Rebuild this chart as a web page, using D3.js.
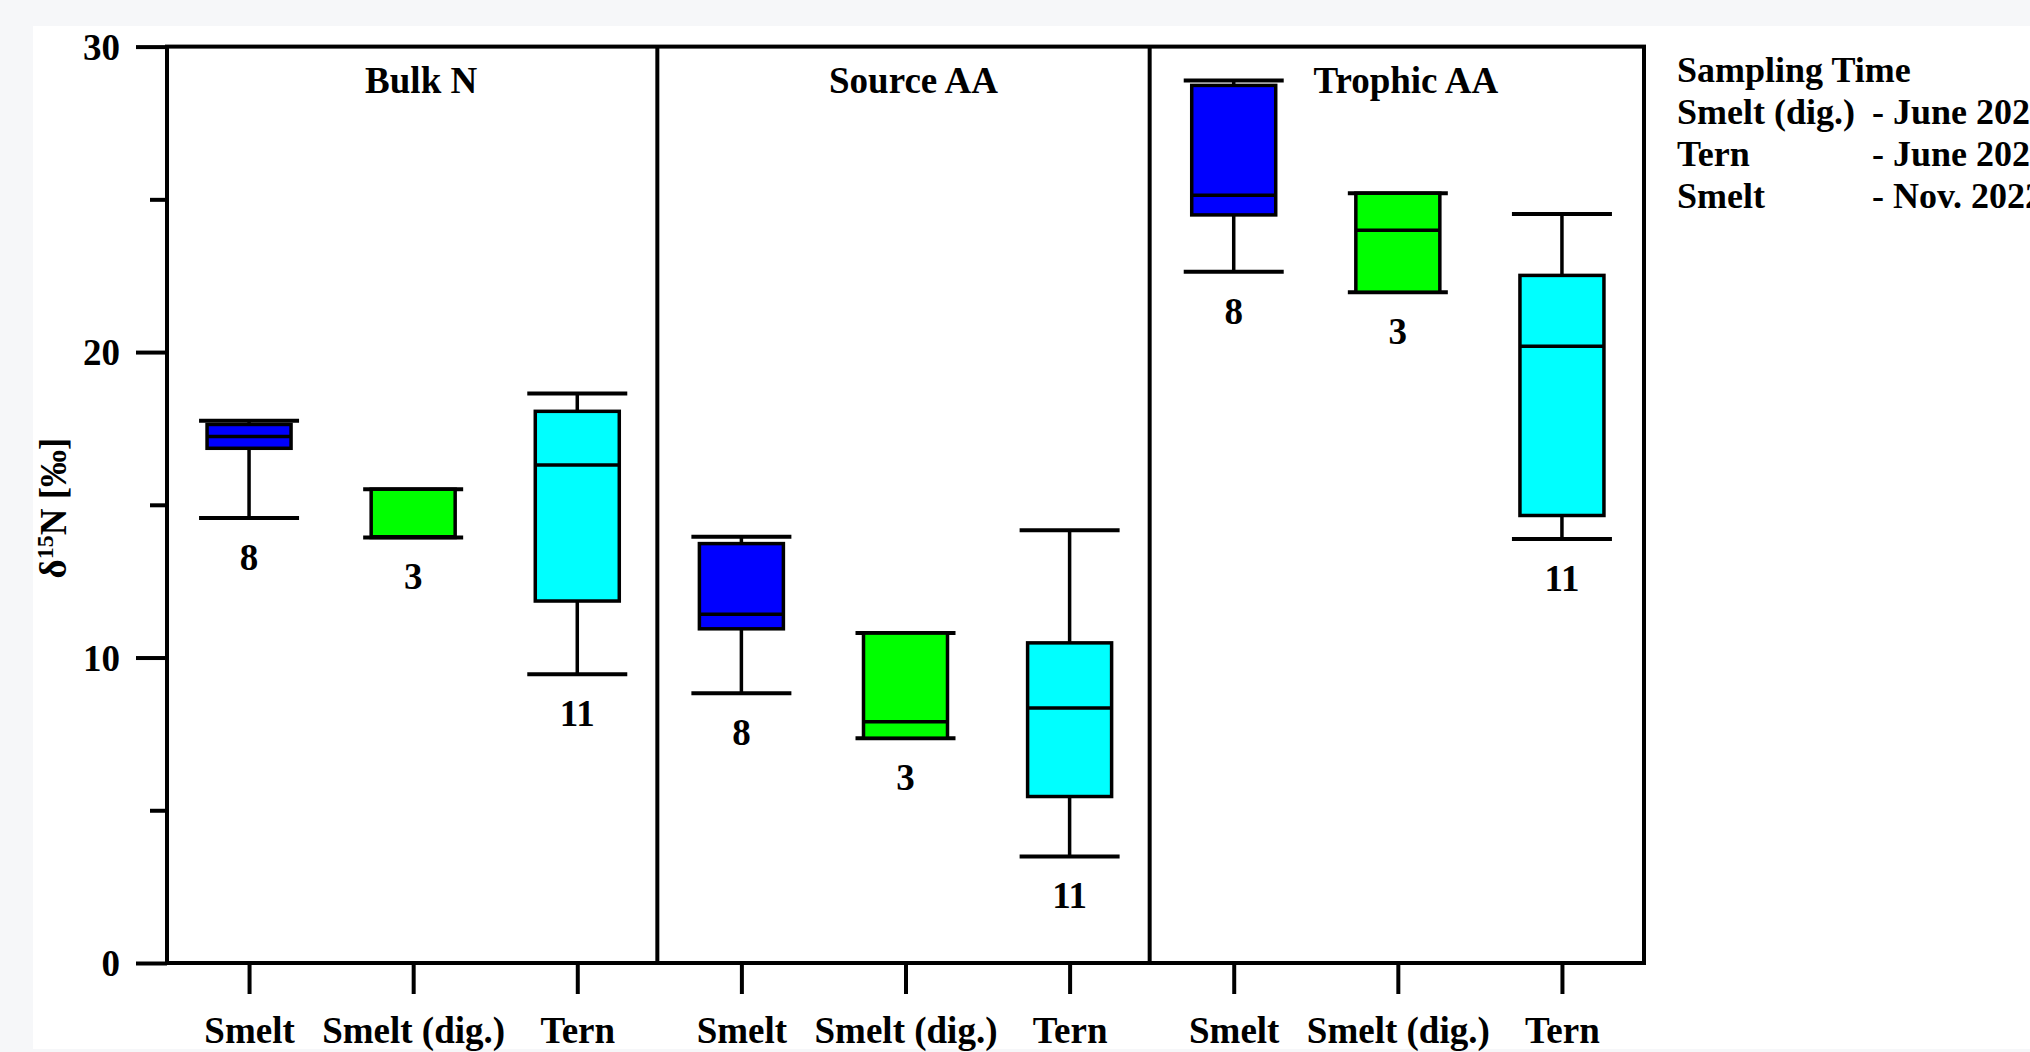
<!DOCTYPE html>
<html lang="en">
<head>
  <meta charset="utf-8">
  <title>d15N box plots</title>
  <script src="https://d3js.org/d3.v7.min.js"></script>
  <style>
    body { margin: 0; background: #f6f7f9; }
    svg text { font-family: "Liberation Serif", "Times New Roman", serif; font-weight: bold; fill: #000; }
  </style>
</head>
<body>
<div id="chart"></div>
<script>
// panels and groups
var panels = ["Bulk N", "Source AA", "Trophic AA"];
var groups = ["Smelt", "Smelt (dig.)", "Tern"];
var counts = [8, 3, 11];
var colors = ["#0000ff", "#00ff00", "#00ffff"];

// [whisker low, q1, median, q3, whisker high] per group
var bulkN = [
  [14.57, 16.85, 17.24, 17.63, 17.75],
  [13.93, 13.93, 13.95, 15.51, 15.51],
  [9.45, 11.85, 16.30, 18.06, 18.64]
];
var sourceAA = [
  [8.83, 10.94, 11.42, 13.73, 13.95],
  [7.36, 7.36, 7.90, 10.80, 10.80],
  [3.49, 5.45, 8.35, 10.48, 14.17]
];
var trophicAA = [
  [22.63, 24.49, 25.13, 28.73, 28.89],
  [21.96, 21.96, 23.99, 25.20, 25.20],
  [13.88, 14.65, 20.19, 22.51, 24.52]
];
var yTicks = [0, 5, 10, 15, 20, 25, 30];
var legendTitle = "Sampling Time";
var legendNames = ["Smelt (dig.)", "Tern", "Smelt"];
var legendTimes = ["- June 2022", "- June 2022", "- Nov. 2022"];

var panelData = [bulkN, sourceAA, trophicAA];

var width = 2030, height = 1052;
var plotLeft = 167, plotRight = 1644, plotTop = 46.6, plotBottom = 963;

var svg = d3.select("#chart").append("svg")
  .attr("width", width)
  .attr("height", height);

// white page area
svg.append("rect")
  .attr("x", 33).attr("y", 26)
  .attr("width", width - 33).attr("height", 1049 - 26)
  .attr("fill", "#fff");

var y = d3.scaleLinear().domain([0, 30]).range([plotBottom, plotTop]);
var px = d3.scaleBand().domain(panels).range([plotLeft, plotRight]).padding(0);
var gx = d3.scalePoint().domain(groups).range([0, px.bandwidth()]).padding(0.5);

var boxW = 84, capW = 100;

// y axis
var yAxis = svg.append("g")
  .attr("transform", "translate(" + plotLeft + ",0)")
  .call(d3.axisLeft(y).tickValues(yTicks).tickSize(31).tickPadding(16)
    .tickFormat(function(d) { return d % 10 === 0 ? d : ""; }));
yAxis.select(".domain").remove();
yAxis.selectAll(".tick line")
  .attr("stroke", "#000").attr("stroke-width", 4)
  .attr("x2", function(d) { return d % 10 === 0 ? -31 : -17; });
yAxis.selectAll(".tick text")
  .style("font-size", "37px").attr("dy", "0.34em");

// y label
var yl = svg.append("text")
  .attr("transform", "translate(66,508) rotate(-90)")
  .attr("text-anchor", "middle")
  .style("font-size", "37px");
yl.append("tspan").text("δ");
yl.append("tspan").attr("dy", -13).style("font-size", "24px").text("15");
yl.append("tspan").attr("dy", 13).text("N [‰]");

// panels
panels.forEach(function(p, pi) {
  var x0 = px(p);
  var g = svg.append("g").attr("transform", "translate(" + x0 + ",0)");

  // x axis ticks + labels
  var xa = g.append("g")
    .attr("transform", "translate(0," + plotBottom + ")")
    .call(d3.axisBottom(gx).tickSize(31).tickPadding(0));
  xa.select(".domain").remove();
  xa.selectAll(".tick line").attr("stroke", "#000").attr("stroke-width", 4);
  xa.selectAll(".tick text")
    .attr("y", 1043 - plotBottom).attr("dy", 0)
    .style("font-size", "37px");

  // panel title
  g.append("text")
    .attr("x", gx(groups[1]) + 8)
    .attr("y", 93)
    .attr("text-anchor", "middle")
    .style("font-size", "37px")
    .text(p);

  var boxes = g.selectAll(".box")
    .data(panelData[pi])
    .enter().append("g")
    .attr("transform", function(d, i) { return "translate(" + gx(groups[i]) + ",0)"; });

  // whisker stems
  boxes.append("line")
    .attr("x1", 0).attr("x2", 0)
    .attr("y1", function(d) { return y(d[0]); })
    .attr("y2", function(d) { return y(d[4]); })
    .attr("stroke", "#000").attr("stroke-width", 3.5);

  // caps
  [0, 4].forEach(function(k) {
    boxes.append("line")
      .attr("x1", -capW / 2).attr("x2", capW / 2)
      .attr("y1", function(d) { return y(d[k]); })
      .attr("y2", function(d) { return y(d[k]); })
      .attr("stroke", "#000").attr("stroke-width", 4);
  });

  // box
  boxes.append("rect")
    .attr("x", -boxW / 2).attr("width", boxW)
    .attr("y", function(d) { return y(d[3]); })
    .attr("height", function(d) { return y(d[1]) - y(d[3]); })
    .attr("fill", function(d, i) { return colors[i]; })
    .attr("stroke", "#000").attr("stroke-width", 3.5);

  // median
  boxes.append("line")
    .attr("x1", -boxW / 2).attr("x2", boxW / 2)
    .attr("y1", function(d) { return y(d[2]); })
    .attr("y2", function(d) { return y(d[2]); })
    .attr("stroke", "#000").attr("stroke-width", 3.5);

  // n labels
  boxes.append("text")
    .attr("x", 0)
    .attr("y", function(d) { return y(d[0]) + 52; })
    .attr("text-anchor", "middle")
    .style("font-size", "37px")
    .text(function(d, i) { return counts[i]; });
});

// frame and panel dividers
svg.append("rect")
  .attr("x", plotLeft).attr("y", plotTop)
  .attr("width", plotRight - plotLeft).attr("height", plotBottom - plotTop)
  .attr("fill", "none").attr("stroke", "#000").attr("stroke-width", 4);
panels.slice(1).forEach(function(p) {
  svg.append("line")
    .attr("x1", px(p) - 2).attr("x2", px(p) - 2)
    .attr("y1", plotTop).attr("y2", plotBottom)
    .attr("stroke", "#000").attr("stroke-width", 4);
});

// legend (clipped at the right edge as in the original)
var lg = svg.append("g").style("font-size", "36px");
lg.append("text").attr("x", 1677).attr("y", 82).text(legendTitle);
legendNames.forEach(function(n, i) {
  lg.append("text").attr("x", 1677).attr("y", 124 + i * 42).text(n);
  lg.append("text").attr("x", 1872).attr("y", 124 + i * 42).text(legendTimes[i]);
});
</script>
</body>
</html>
